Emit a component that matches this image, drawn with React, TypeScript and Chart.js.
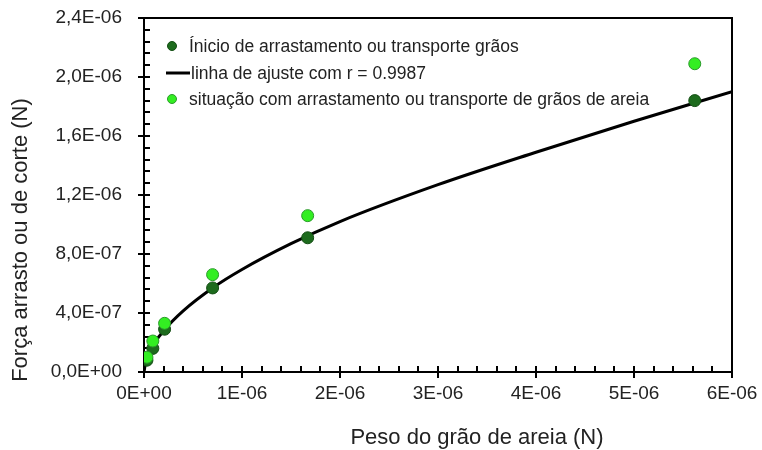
import React, { useEffect, useRef } from "react";
import { Chart, registerables } from "chart.js";

Chart.register(...registerables);

// ---- data (values in units of 1e-6 N) ----
const grainWeight = [0.03, 0.09, 0.21, 0.7, 1.67, 5.62];
const inicioForce = [0.08, 0.16, 0.29, 0.57, 0.91, 1.84];
const situacaoForce = [0.1, 0.21, 0.33, 0.66, 1.06, 2.09];
const fitWeight = [0, 0.02, 0.05, 0.1, 0.2, 0.4, 0.7, 1.0, 1.5, 2.0, 3.0, 4.0, 5.0, 6.0];
const fitForce = [0, 0.077, 0.129, 0.19, 0.28, 0.415, 0.57, 0.695, 0.87, 1.02, 1.27, 1.49, 1.7, 1.9];
const seriesLabels = [
  "Ínicio de arrastamento ou transporte grãos",
  "linha de ajuste com r = 0.9987",
  "situação com arrastamento ou transporte de grãos de areia",
];
const xTitle = "Peso do grão de areia (N)";
const yTitle = "Força arrasto ou de corte (N)";
const SCALE = 1e-6;

const FONT = "'Liberation Sans', Arial, sans-serif";
const TEXT = "#222222";
const DARK = "#1d6b1d";
const DARK_BORDER = "#124d12";
const LIGHT = "#33ee22";
const LIGHT_BORDER = "#2a9a2a";

function fmtY(v: number): string {
  const s = Number(v).toExponential(1);
  const [m, e] = s.split("e");
  const sign = e.startsWith("-") ? "-" : "+";
  const d = e.replace(/[+-]/, "").padStart(2, "0");
  return m.replace(".", ",") + "E" + sign + d;
}
function fmtX(v: number): string {
  const s = Number(v).toExponential(0);
  const [m, e] = s.split("e");
  const sign = e.startsWith("-") ? "-" : "+";
  const d = e.replace(/[+-]/, "").padStart(2, "0");
  return m + "E" + sign + d;
}

const framePlugin = {
  id: "frame",
  beforeDatasetsDraw(chart: any) {
    const { ctx, chartArea, scales } = chart;
    const { left, right, top, bottom } = chartArea;
    const x = scales.x;
    const y = scales.y;
    ctx.save();
    ctx.strokeStyle = "#000";
    ctx.lineWidth = 2;
    ctx.strokeRect(left, top, right - left, bottom - top);
    ctx.beginPath();
    for (let i = 0; i <= 30; i++) {
      const px = Math.round(x.getPixelForValue(i * 0.2 * SCALE));
      if (i % 5 === 0) {
        ctx.moveTo(px, bottom - 6);
        ctx.lineTo(px, bottom + 6);
      } else {
        ctx.moveTo(px, bottom - 6);
        ctx.lineTo(px, bottom);
      }
    }
    for (let i = 0; i <= 30; i++) {
      const py = Math.round(y.getPixelForValue(i * 0.08 * SCALE));
      if (i % 5 === 0) {
        ctx.moveTo(left - 6, py);
        ctx.lineTo(left + 6, py);
      } else {
        ctx.moveTo(left, py);
        ctx.lineTo(left + 6, py);
      }
    }
    ctx.stroke();
    ctx.restore();
  },
  afterDraw(chart: any) {
    const { ctx } = chart;
    ctx.save();
    ctx.fillStyle = TEXT;
    ctx.font = `22px ${FONT}`;
    ctx.textAlign = "center";
    ctx.textBaseline = "middle";
    ctx.fillText(xTitle, 477, 438);
    ctx.save();
    ctx.translate(21, 240);
    ctx.rotate(-Math.PI / 2);
    ctx.fillText(yTitle, 0, 0);
    ctx.restore();

    const rows = [46, 73, 99];
    const ds = chart.data.datasets;
    ctx.font = `17.5px ${FONT}`;
    ctx.textAlign = "left";
    ctx.textBaseline = "middle";
    const order = [2, 1, 0];
    order.forEach((di, r) => {
      const d = ds[di];
      const yy = rows[r];
      if (d.type === "line") {
        ctx.strokeStyle = "#000";
        ctx.lineWidth = 3;
        ctx.beginPath();
        ctx.moveTo(166, yy);
        ctx.lineTo(190, yy);
        ctx.stroke();
        ctx.fillStyle = TEXT;
        ctx.fillText(d.label, 191, yy + 1);
      } else {
        ctx.beginPath();
        ctx.arc(172, yy, 4.5, 0, Math.PI * 2);
        ctx.fillStyle = d.backgroundColor;
        ctx.fill();
        ctx.lineWidth = 1;
        ctx.strokeStyle = d.borderColor;
        ctx.stroke();
        ctx.fillStyle = TEXT;
        ctx.fillText(d.label, 189, yy + 1);
      }
    });
    ctx.restore();
  },
};

export default function App() {
  const ref = useRef<HTMLCanvasElement | null>(null);
  useEffect(() => {
    if (!ref.current) return;
    const fit = fitWeight.map((w, i) => ({ x: w * SCALE, y: fitForce[i] * SCALE }));
    const ini = grainWeight.map((w, i) => ({ x: w * SCALE, y: inicioForce[i] * SCALE }));
    const sit = grainWeight.map((w, i) => ({ x: w * SCALE, y: situacaoForce[i] * SCALE }));
    const chart = new Chart(ref.current, {
      type: "scatter",
      data: {
        datasets: [
          {
            type: "scatter",
            label: seriesLabels[2],
            data: sit,
            backgroundColor: LIGHT,
            borderColor: LIGHT_BORDER,
            borderWidth: 1,
            pointRadius: 6,
            order: 1,
          } as any,
          {
            type: "line",
            label: seriesLabels[1],
            data: fit,
            borderColor: "#000",
            borderWidth: 3,
            pointRadius: 0,
            showLine: true,
            fill: false,
            cubicInterpolationMode: "monotone",
            order: 3,
          } as any,
          {
            type: "scatter",
            label: seriesLabels[0],
            data: ini,
            backgroundColor: DARK,
            borderColor: DARK_BORDER,
            borderWidth: 1,
            pointRadius: 6,
            order: 2,
          } as any,
        ],
      },
      options: {
        responsive: false,
        animation: false,
        layout: { padding: { top: 18, right: 30, left: 0, bottom: 0 } },
        plugins: { legend: { display: false }, tooltip: { enabled: false } },
        scales: {
          x: {
            type: "linear",
            min: 0,
            max: 6 * SCALE,
            grid: { display: false, drawTicks: false },
            border: { display: false },
            ticks: {
              stepSize: 1 * SCALE,
              padding: 10,
              color: TEXT,
              font: { family: FONT, size: 19 },
              callback: (v: any) => fmtX(Number(v)),
            },
            afterFit: (s: any) => {
              s.height = 78;
              s.paddingLeft = 0;
              s.paddingRight = 0;
              s.paddingTop = 0;
              s.paddingBottom = 0;
            },
          },
          y: {
            type: "linear",
            min: 0,
            max: 2.4 * SCALE,
            grid: { display: false, drawTicks: false },
            border: { display: false },
            ticks: {
              stepSize: 0.4 * SCALE,
              padding: 22,
              color: TEXT,
              font: { family: FONT, size: 19 },
              callback: (v: any) => fmtY(Number(v)),
            },
            afterFit: (s: any) => {
              s.width = 144;
              s.paddingLeft = 0;
              s.paddingRight = 0;
              s.paddingTop = 0;
              s.paddingBottom = 0;
            },
          },
        },
      },
      plugins: [framePlugin],
    } as any);
    return () => chart.destroy();
  }, []);
  return (
    <div style={{ position: "absolute", left: 0, top: 0, width: 762, height: 450, background: "#fff" }}>
      <canvas ref={ref} width={762} height={450} />
    </div>
  );
}
